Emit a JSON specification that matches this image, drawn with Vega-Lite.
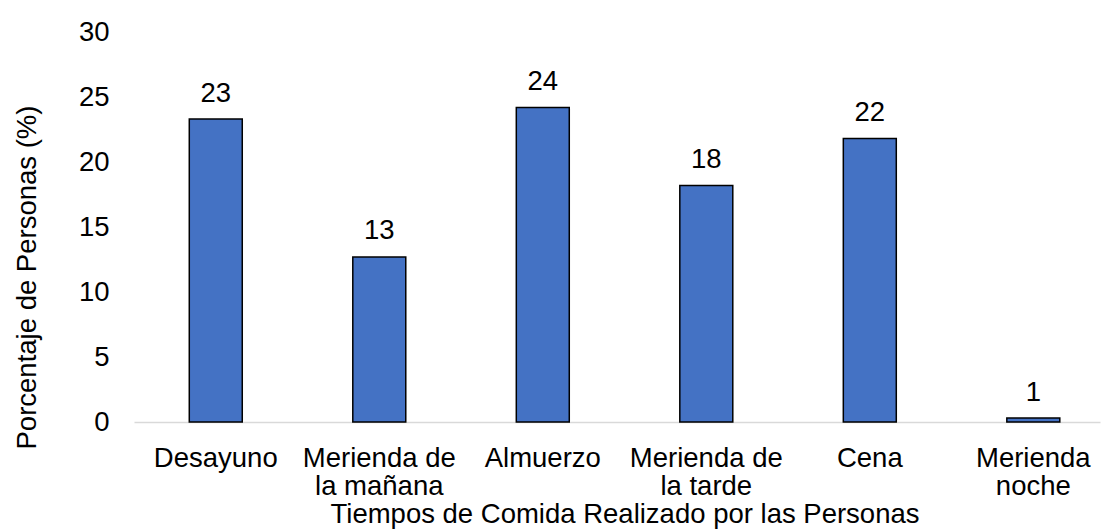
{
  "$schema": "https://vega.github.io/schema/vega-lite/v6.json",
  "autosize": "none",
  "width": 966,
  "height": 390,
  "padding": {"left": 134, "top": 32, "right": 1, "bottom": 107},
  "background": "white",
  "config": {
    "view": {"stroke": null},
    "font": "Liberation Sans"
  },
  "data": {
    "values": [
      {"comida": "Desayuno", "porcentaje": 23.3, "etiqueta": "23"},
      {"comida": "Merienda de la mañana", "porcentaje": 12.7, "etiqueta": "13"},
      {"comida": "Almuerzo", "porcentaje": 24.2, "etiqueta": "24"},
      {"comida": "Merienda de la tarde", "porcentaje": 18.2, "etiqueta": "18"},
      {"comida": "Cena", "porcentaje": 21.8, "etiqueta": "22"},
      {"comida": "Merienda noche", "porcentaje": 0.3, "etiqueta": "1"}
    ]
  },
  "encoding": {
    "x": {
      "field": "comida",
      "type": "nominal",
      "sort": null,
      "scale": {"paddingInner": 0.676, "paddingOuter": 0.292, "align": 0.579},
      "axis": {
        "title": "Tiempos de Comida Realizado por las Personas",
        "titleFont": "Liberation Sans",
        "titleFontSize": 27.5,
        "titleFontWeight": "normal",
        "titleColor": "#000000",
        "titleX": 490.5,
        "titleY": 100.7,
        "titleAlign": "center",
        "titleBaseline": "alphabetic",
        "labelAngle": 0,
        "labelFont": "Liberation Sans",
        "labelFontSize": 27.5,
        "labelColor": "#000000",
        "labelBaseline": "top",
        "labelPadding": 22,
        "labelLineHeight": 28.5,
        "labelLimit": 0,
        "labelOverlap": false,
        "labelExpr": "datum.label == 'Merienda de la mañana' ? ['Merienda de', 'la mañana'] : datum.label == 'Merienda de la tarde' ? ['Merienda de', 'la tarde'] : datum.label == 'Merienda noche' ? ['Merienda', 'noche'] : datum.label",
        "ticks": false,
        "domainColor": "#d9d9d9",
        "domainWidth": 1.3,
        "grid": false
      }
    },
    "y": {
      "field": "porcentaje",
      "type": "quantitative",
      "scale": {"domain": [0, 30], "nice": false},
      "axis": {
        "title": "Porcentaje de Personas (%)",
        "titleFont": "Liberation Sans",
        "titleFontSize": 27.5,
        "titleFontWeight": "normal",
        "titleColor": "#000000",
        "titleAngle": -90,
        "titleX": -107,
        "titleY": 245,
        "titleAlign": "center",
        "titleBaseline": "middle",
        "values": [0, 5, 10, 15, 20, 25, 30],
        "labelFont": "Liberation Sans",
        "labelFontSize": 27.5,
        "labelColor": "#000000",
        "labelPadding": 25,
        "ticks": false,
        "domain": false,
        "grid": false
      }
    }
  },
  "layer": [
    {
      "mark": {"type": "bar", "color": "#4472C4", "stroke": "#000000", "strokeWidth": 1.5}
    },
    {
      "mark": {"type": "text", "baseline": "alphabetic", "align": "center", "dy": -17.5, "font": "Liberation Sans", "fontSize": 27.5, "color": "#000000"},
      "encoding": {"text": {"field": "etiqueta", "type": "nominal"}}
    }
  ]
}
